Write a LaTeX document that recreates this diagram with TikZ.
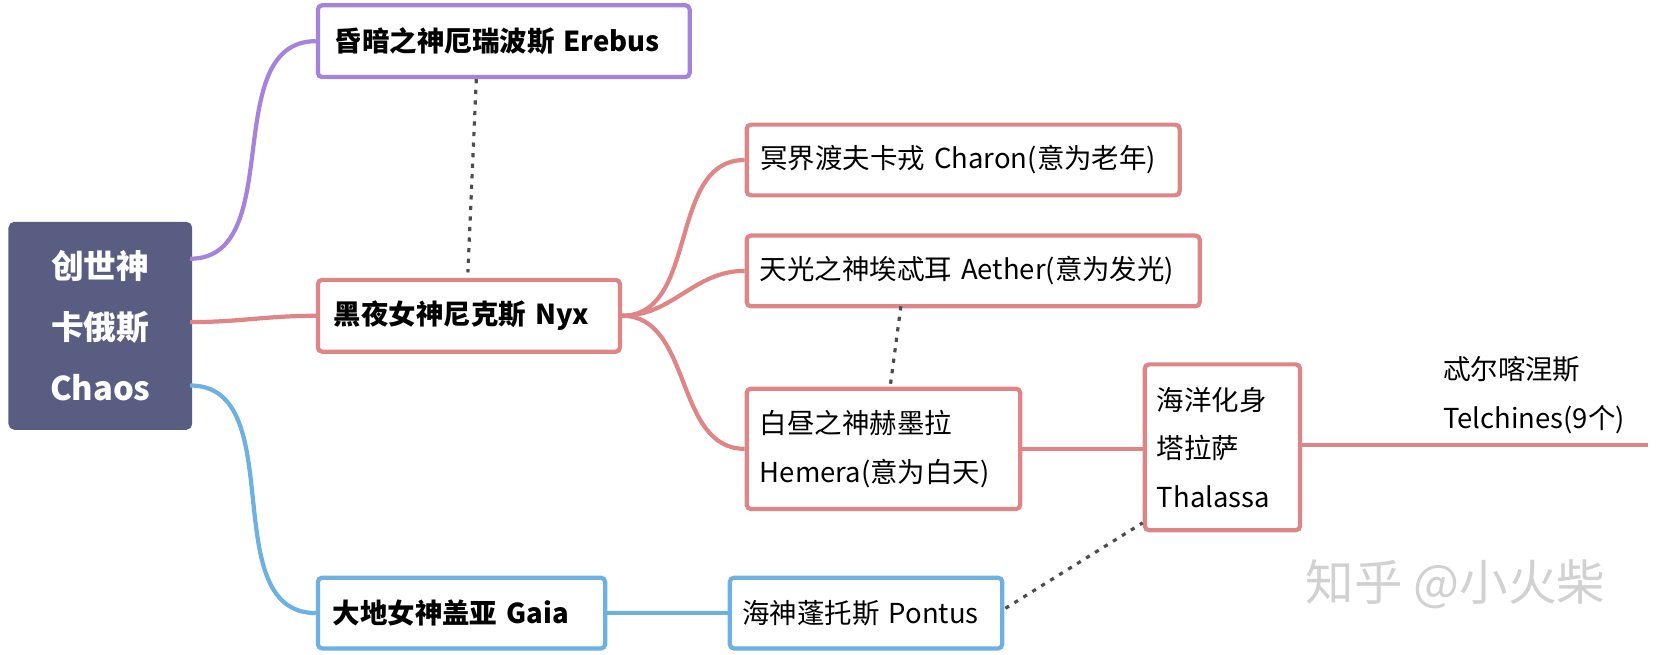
\documentclass[tikz,border=0pt]{standalone}
\usepackage{fontspec}
\setmainfont{Noto Sans CJK SC}
\begin{document}
\begin{tikzpicture}[x=0.5pt,y=-0.5pt,
 box/.style={draw,line width=2pt,rounded corners=2pt,fill=white,inner sep=0pt,anchor=north west,font=\fontsize{13}{15}\selectfont,align=left},
 conn/.style={line width=2pt},
 dot/.style={line width=1.5pt,dash pattern=on 2pt off 3pt,black!70}]
\definecolor{pur}{HTML}{A583DC}\definecolor{red}{HTML}{E08585}\definecolor{blu}{HTML}{6DB1E2}\definecolor{slate}{HTML}{585D81}
\useasboundingbox (0,0) rectangle (1568,620);
\node[box,draw=slate,fill=slate,text=white,minimum width=170pt*0.5,minimum height=193pt*0.5,align=center,anchor=center,font=\fontsize{15.5}{29}\selectfont\bfseries] (chaos) at (95,308.5) {创世神\\卡俄斯\\Chaos};
\node[box,draw=pur,minimum width=176pt,minimum height=34pt,font=\fontsize{13}{15}\selectfont\bfseries,text width=168pt] (ere) at (299,3) {\hspace*{4pt}昏暗之神厄瑞波斯 Erebus};
\node[box,draw=red,minimum width=143pt,minimum height=34pt,font=\fontsize{13}{15}\selectfont\bfseries,text width=136pt] (nyx) at (299,263) {\hspace*{4pt}黑夜女神尼克斯 Nyx};
\node[box,draw=red,minimum width=205pt,minimum height=33.5pt,text width=200pt] (cha) at (705,116) {\hspace*{4pt}冥界渡夫卡戎 Charon(意为老年)};
\node[box,draw=red,minimum width=214.5pt,minimum height=33.5pt,text width=210pt] (aet) at (705,221) {\hspace*{4pt}天光之神埃忒耳 Aether(意为发光)};
\node[box,draw=red,minimum width=129.5pt,minimum height=57pt,text width=125pt,font=\fontsize{13}{23}\selectfont] (hem) at (705,366) {\hspace*{4pt}白昼之神赫墨拉\\\hspace*{4pt}Hemera(意为白天)};
\node[box,draw=red,minimum width=73.5pt,minimum height=78.5pt,text width=70pt,font=\fontsize{13}{23}\selectfont] (tha) at (1082,343) {\hspace*{4pt}海洋化身\\\hspace*{4pt}塔拉萨\\\hspace*{4pt}Thalassa};
\node[box,draw=blu,minimum width=136pt,minimum height=33.5pt,font=\fontsize{13}{15}\selectfont\bfseries,text width=130pt] (gaia) at (299,545) {\hspace*{4pt}大地女神盖亚 Gaia};
\node[box,draw=blu,minimum width=129pt,minimum height=33.5pt,text width=125pt] (pon) at (689,545) {\hspace*{4pt}海神蓬托斯 Pontus};
\node[anchor=north west,inner sep=0pt,align=left,font=\fontsize{13}{23}\selectfont] (tel) at (1366,337) {忒尔喀涅斯\\Telchines(9个)};
\coordinate (telend) at (1560,421);
\node[anchor=west,inner sep=0pt,text=black!18,font=\fontsize{23}{26}\selectfont] (wm) at (1236,553) {知乎 @小火柴};
\draw[conn,pur] (180,245) to[out=0,in=180] (ere.west);
\draw[conn,red] (180,305) to[out=0,in=180] (nyx.west);
\draw[conn,blu] (180,365) to[out=0,in=180] (gaia.west);
\draw[conn,red] (nyx.east) to[out=0,in=180] (cha.west);
\draw[conn,red] (nyx.east) to[out=0,in=180] (aet.west);
\draw[conn,red] (nyx.east) to[out=0,in=180] (hem.west);
\draw[conn,red] (hem.east) -- (tha.west|-hem.east);
\draw[conn,red] (tha.east|-telend) -- (telend);
\draw[conn,blu] (gaia.east) -- (pon.west);
\draw[dot] (ere.south)++(-26,0) -- (443,258);
\draw[dot] (853,290) -- (843,365);
\draw[dot] (952,576) -- (1082,495);
\end{tikzpicture}
\end{document}
